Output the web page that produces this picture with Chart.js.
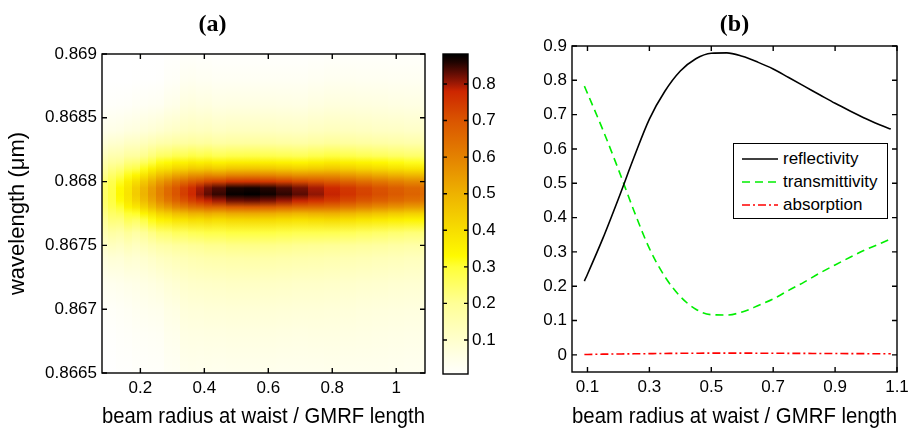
<!DOCTYPE html>
<html>
<head>
<meta charset="utf-8">
<script src="https://cdn.jsdelivr.net/npm/chart.js@4.4.1/dist/chart.umd.min.js"></script>
<style>
  html, body { margin:0; padding:0; background:#fff; }
  #wrap { position:relative; width:915px; height:430px; overflow:hidden; font-family:"Liberation Sans", Arial, sans-serif; }
  #wrap canvas { position:absolute; top:0; }
  #cA { left:0; }
  #cCB { left:430px; }
  #cB { left:480px; }
  .legend { position:absolute; left:733px; top:143px; width:155px; height:76px; box-sizing:border-box;
            border:1px solid #000; background:#fff; padding-top:3px; font-size:17px; color:#000; }
  .legend .item { display:flex; align-items:center; height:23px; }
  .legend svg { margin-left:8px; margin-right:5px; }
</style>
</head>
<body>
<div id="wrap">
  <canvas id="cA" width="508" height="430"></canvas>
  <canvas id="cCB" width="80" height="430"></canvas>
  <canvas id="cB" width="435" height="430"></canvas>
  <div class="legend" id="legB"></div>
</div>
<script>
// ---- panel (b): curves vs beam radius / GMRF length
const beamRatio      = [0.09, 0.10, 0.15, 0.20, 0.25, 0.30, 0.35, 0.40, 0.45, 0.50, 0.55, 0.60, 0.65, 0.70, 0.75, 0.80, 0.85, 0.90, 0.95, 1.00, 1.05, 1.08];
const reflectivity   = [0.215, 0.235, 0.340, 0.455, 0.575, 0.687, 0.768, 0.827, 0.863, 0.879, 0.880, 0.870, 0.853, 0.833, 0.808, 0.783, 0.758, 0.733, 0.710, 0.688, 0.668, 0.658];
const transmittivity = [0.783, 0.762, 0.655, 0.540, 0.420, 0.310, 0.228, 0.170, 0.133, 0.117, 0.116, 0.125, 0.143, 0.163, 0.188, 0.212, 0.238, 0.262, 0.285, 0.307, 0.326, 0.338];
const absorption     = [0.001, 0.0012, 0.002, 0.0025, 0.003, 0.0035, 0.004, 0.0045, 0.0048, 0.005, 0.005, 0.005, 0.0048, 0.0046, 0.0044, 0.0042, 0.004, 0.0038, 0.0036, 0.0034, 0.0032, 0.003];
const seriesNames    = ['reflectivity', 'transmittivity', 'absorption'];
const xTicksB = [0.1, 0.3, 0.5, 0.7, 0.9, 1.1];
const yTicksB = [0, 0.1, 0.2, 0.3, 0.4, 0.5, 0.6, 0.7, 0.8, 0.9];

// ---- panel (a): reflectivity map, one column of values per beam ratio (top -> bottom wavelength)
const heatX  = [0.09, 0.1125, 0.1375, 0.1625, 0.1875, 0.2125, 0.2375, 0.2625, 0.2875, 0.3125, 0.3375, 0.3625, 0.3875, 0.4125, 0.4375,
                0.50, 0.55, 0.60, 0.65, 0.70, 0.75, 0.80, 0.85, 0.90, 0.95, 1.00, 1.05, 1.10];
const heatWl = [0.8690, 0.8688, 0.8686, 0.8684, 0.8683, 0.8682, 0.86815, 0.8681, 0.86805, 0.8680, 0.86795, 0.8679,
                0.86785, 0.8678, 0.86775, 0.8677, 0.8676, 0.8675, 0.8674, 0.8672, 0.8670, 0.8668, 0.8665];
const heatZ = [
  [0, 0, 0.009, 0.045, 0.083, 0.133, 0.163, 0.190, 0.215, 0.238, 0.248, 0.250, 0.248, 0.238, 0.218, 0.200, 0.153, 0.108, 0.073, 0.033, 0.013, 0.005, 0.001],
  [0, 0, 0.010, 0.052, 0.096, 0.154, 0.189, 0.220, 0.249, 0.276, 0.287, 0.290, 0.287, 0.276, 0.252, 0.232, 0.177, 0.125, 0.084, 0.038, 0.015, 0.006, 0.001],
  [0, 0.001, 0.014, 0.056, 0.100, 0.159, 0.198, 0.235, 0.275, 0.312, 0.332, 0.335, 0.327, 0.303, 0.263, 0.231, 0.169, 0.119, 0.082, 0.041, 0.020, 0.010, 0.004],
  [0, 0.001, 0.016, 0.064, 0.116, 0.183, 0.227, 0.270, 0.316, 0.358, 0.381, 0.385, 0.375, 0.348, 0.302, 0.266, 0.194, 0.137, 0.094, 0.047, 0.023, 0.012, 0.004],
  [0, 0.003, 0.022, 0.068, 0.119, 0.185, 0.233, 0.282, 0.343, 0.400, 0.436, 0.440, 0.422, 0.378, 0.308, 0.255, 0.176, 0.123, 0.088, 0.051, 0.031, 0.018, 0.008],
  [0, 0.003, 0.025, 0.077, 0.134, 0.208, 0.262, 0.317, 0.386, 0.450, 0.490, 0.495, 0.475, 0.426, 0.347, 0.287, 0.198, 0.139, 0.099, 0.057, 0.035, 0.020, 0.009],
  [0, 0.003, 0.028, 0.085, 0.149, 0.231, 0.292, 0.352, 0.429, 0.500, 0.545, 0.550, 0.528, 0.473, 0.385, 0.319, 0.220, 0.154, 0.110, 0.063, 0.039, 0.022, 0.010],
  [0, 0.004, 0.030, 0.094, 0.163, 0.254, 0.321, 0.387, 0.472, 0.551, 0.599, 0.605, 0.581, 0.520, 0.424, 0.351, 0.242, 0.169, 0.121, 0.070, 0.042, 0.024, 0.011],
  [0.004, 0.016, 0.046, 0.105, 0.169, 0.259, 0.328, 0.398, 0.495, 0.586, 0.648, 0.655, 0.626, 0.550, 0.440, 0.360, 0.246, 0.175, 0.129, 0.082, 0.056, 0.039, 0.022],
  [0.004, 0.017, 0.049, 0.112, 0.180, 0.277, 0.350, 0.425, 0.529, 0.627, 0.693, 0.700, 0.669, 0.588, 0.471, 0.385, 0.263, 0.187, 0.138, 0.088, 0.060, 0.041, 0.024],
  [0.009, 0.031, 0.067, 0.122, 0.181, 0.274, 0.348, 0.426, 0.540, 0.651, 0.733, 0.740, 0.703, 0.607, 0.477, 0.385, 0.259, 0.189, 0.144, 0.100, 0.074, 0.058, 0.037],
  [0.009, 0.033, 0.070, 0.128, 0.190, 0.287, 0.364, 0.446, 0.566, 0.682, 0.767, 0.775, 0.736, 0.636, 0.500, 0.403, 0.271, 0.198, 0.151, 0.105, 0.078, 0.060, 0.039],
  [0.007, 0.028, 0.064, 0.123, 0.183, 0.278, 0.354, 0.441, 0.568, 0.700, 0.795, 0.805, 0.761, 0.644, 0.497, 0.398, 0.274, 0.201, 0.155, 0.107, 0.078, 0.060, 0.038],
  [0.007, 0.029, 0.066, 0.127, 0.189, 0.286, 0.365, 0.454, 0.585, 0.722, 0.819, 0.830, 0.784, 0.664, 0.513, 0.411, 0.282, 0.208, 0.160, 0.110, 0.081, 0.062, 0.039],
  [0.005, 0.024, 0.060, 0.119, 0.179, 0.272, 0.349, 0.442, 0.578, 0.731, 0.837, 0.850, 0.799, 0.663, 0.502, 0.400, 0.281, 0.208, 0.162, 0.111, 0.081, 0.061, 0.038],
  [0.005, 0.025, 0.061, 0.123, 0.184, 0.280, 0.359, 0.456, 0.596, 0.753, 0.863, 0.876, 0.823, 0.683, 0.517, 0.412, 0.289, 0.215, 0.166, 0.114, 0.083, 0.063, 0.039],
  [0.005, 0.025, 0.062, 0.123, 0.185, 0.282, 0.361, 0.458, 0.598, 0.757, 0.867, 0.880, 0.827, 0.686, 0.519, 0.414, 0.290, 0.216, 0.167, 0.114, 0.084, 0.063, 0.040],
  [0.005, 0.024, 0.061, 0.122, 0.183, 0.278, 0.357, 0.452, 0.592, 0.748, 0.857, 0.870, 0.818, 0.679, 0.513, 0.409, 0.287, 0.213, 0.165, 0.113, 0.083, 0.063, 0.039],
  [0.005, 0.024, 0.060, 0.119, 0.179, 0.273, 0.350, 0.444, 0.580, 0.734, 0.840, 0.853, 0.802, 0.665, 0.503, 0.401, 0.281, 0.209, 0.162, 0.111, 0.081, 0.061, 0.038],
  [0.005, 0.023, 0.058, 0.117, 0.175, 0.267, 0.342, 0.433, 0.566, 0.716, 0.820, 0.833, 0.783, 0.650, 0.491, 0.392, 0.275, 0.204, 0.158, 0.108, 0.079, 0.060, 0.037],
  [0.007, 0.028, 0.065, 0.123, 0.184, 0.279, 0.356, 0.442, 0.570, 0.703, 0.797, 0.808, 0.764, 0.646, 0.499, 0.400, 0.275, 0.202, 0.156, 0.107, 0.079, 0.061, 0.038],
  [0.009, 0.033, 0.070, 0.129, 0.192, 0.290, 0.368, 0.450, 0.572, 0.689, 0.775, 0.783, 0.744, 0.642, 0.505, 0.407, 0.274, 0.200, 0.153, 0.106, 0.078, 0.061, 0.039],
  [0.009, 0.032, 0.068, 0.125, 0.186, 0.280, 0.356, 0.436, 0.553, 0.667, 0.750, 0.758, 0.720, 0.622, 0.489, 0.394, 0.265, 0.193, 0.148, 0.102, 0.076, 0.059, 0.038],
  [0.009, 0.031, 0.066, 0.121, 0.180, 0.271, 0.345, 0.421, 0.535, 0.645, 0.726, 0.733, 0.696, 0.601, 0.473, 0.381, 0.257, 0.187, 0.143, 0.099, 0.073, 0.057, 0.037],
  [0.009, 0.030, 0.064, 0.117, 0.174, 0.263, 0.334, 0.408, 0.518, 0.625, 0.703, 0.710, 0.675, 0.582, 0.458, 0.369, 0.249, 0.181, 0.138, 0.096, 0.071, 0.055, 0.036],
  [0.008, 0.029, 0.062, 0.114, 0.169, 0.255, 0.323, 0.396, 0.502, 0.605, 0.681, 0.688, 0.654, 0.564, 0.444, 0.358, 0.241, 0.175, 0.134, 0.093, 0.069, 0.054, 0.034],
  [0.008, 0.028, 0.060, 0.110, 0.164, 0.247, 0.314, 0.384, 0.488, 0.588, 0.661, 0.668, 0.635, 0.548, 0.431, 0.347, 0.234, 0.170, 0.130, 0.090, 0.067, 0.052, 0.033],
  [0.008, 0.027, 0.059, 0.108, 0.160, 0.241, 0.306, 0.375, 0.476, 0.574, 0.645, 0.652, 0.619, 0.535, 0.421, 0.339, 0.228, 0.166, 0.127, 0.088, 0.065, 0.051, 0.033]
];
const xTicksA = [0.2, 0.4, 0.6, 0.8, 1];
const yTicksA = [0.8665, 0.867, 0.8675, 0.868, 0.8685, 0.869];
const cbTicks = [0.1, 0.2, 0.3, 0.4, 0.5, 0.6, 0.7, 0.8];
const cbMin = 0.007, cbMax = 0.882;

// reversed "hot"-like colormap
const cmapStops = [
  [0.00, [255,255,255]], [0.05, [255,255,232]], [0.10, [255,255,205]], [0.20, [255,255,150]],
  [0.30, [255,255,55]],  [0.33, [255,250,0]],   [0.40, [247,222,0]],   [0.50, [238,178,0]],
  [0.60, [228,130,0]],   [0.70, [218,85,0]],    [0.78, [205,38,0]],    [0.80, [160,25,4]],
  [0.83, [95,12,3]],     [0.86, [30,3,0]],      [0.88, [0,0,0]]
];
function cmap(v){
  if (v <= cmapStops[0][0]) return rgb(cmapStops[0][1]);
  for (let i = 1; i < cmapStops.length; i++){
    const [v1, c1] = cmapStops[i];
    if (v <= v1){
      const [v0, c0] = cmapStops[i-1];
      const t = (v - v0) / (v1 - v0);
      return rgb(c0.map((c, k) => c + (c1[k] - c) * t));
    }
  }
  return rgb(cmapStops[cmapStops.length-1][1]);
}
function rgb(c){ return `rgb(${c.map(Math.round).join(',')})`; }
const fmt = v => String(+(+v).toFixed(4));

Chart.defaults.font.family = '"Liberation Sans", Arial, sans-serif';
Chart.defaults.color = '#000';
Chart.defaults.animation = false;
const tickFont = {size:17};

// box around plot area with inward MATLAB ticks
const framePlugin = {
  id:'frame',
  afterDraw(chart, args, opts){
    const {ctx, chartArea:a} = chart;
    ctx.save();
    ctx.strokeStyle = '#000'; ctx.lineWidth = 1.4;
    ctx.strokeRect(a.left, a.top, a.right - a.left, a.bottom - a.top);
    const len = opts.len || 5;
    ctx.beginPath();
    Object.values(chart.scales).forEach(s => {
      if (!s.options.display) return;
      s.ticks.forEach(t => {
        const p = s.getPixelForValue(t.value);
        if (s.isHorizontal()){
          ctx.moveTo(p, a.bottom); ctx.lineTo(p, a.bottom - len);
          ctx.moveTo(p, a.top); ctx.lineTo(p, a.top + len);
        } else {
          ctx.moveTo(a.left, p); ctx.lineTo(a.left + len, p);
          ctx.moveTo(a.right, p); ctx.lineTo(a.right - len, p);
        }
      });
    });
    ctx.stroke();
    ctx.restore();
  }
};

const heatmapPlugin = {
  id:'heatmap',
  beforeDatasetsDraw(chart){
    const {ctx, chartArea:a, scales:{x, y}} = chart;
    ctx.save();
    ctx.beginPath(); ctx.rect(a.left, a.top, a.right - a.left, a.bottom - a.top); ctx.clip();
    const yTop = y.getPixelForValue(heatWl[0]);
    const yBot = y.getPixelForValue(heatWl[heatWl.length-1]);
    heatX.forEach((xc, c) => {
      const prev = c > 0 ? heatX[c-1] : xc - (heatX[1] - heatX[0]);
      const next = c < heatX.length-1 ? heatX[c+1] : xc + (xc - heatX[c-1]);
      const x0 = Math.floor(x.getPixelForValue((prev + xc) / 2));
      const x1 = Math.ceil(x.getPixelForValue((xc + next) / 2));
      const g = ctx.createLinearGradient(0, yTop, 0, yBot);
      heatWl.forEach((wl, r) => g.addColorStop((y.getPixelForValue(wl) - yTop) / (yBot - yTop), cmap(heatZ[c][r])));
      ctx.fillStyle = g;
      ctx.fillRect(x0, yTop, x1 - x0, yBot - yTop);
    });
    ctx.restore();
  }
};

const colorbarPlugin = {
  id:'colorbar',
  beforeDatasetsDraw(chart){
    const {ctx, chartArea:a, scales:{y}} = chart;
    const y0 = y.getPixelForValue(cbMin), y1 = y.getPixelForValue(cbMax);
    const g = ctx.createLinearGradient(0, y0, 0, y1);
    g.addColorStop(0, cmap(cbMin));
    cmapStops.forEach(([v]) => { if (v > cbMin && v < cbMax) g.addColorStop((v - cbMin) / (cbMax - cbMin), cmap(v)); });
    g.addColorStop(1, cmap(cbMax));
    ctx.save();
    ctx.fillStyle = g;
    ctx.fillRect(a.left, y1, a.right - a.left, y0 - y1);
    ctx.restore();
  }
};

// ---- (a) map
new Chart(document.getElementById('cA'), {
  type:'scatter',
  data:{ datasets:[] },
  plugins:[heatmapPlugin, framePlugin],
  options:{
    responsive:false,
    layout:{ padding:{left:0, right:83, top:0, bottom:0} },
    plugins:{
      legend:{display:false}, tooltip:{enabled:false},
      title:{display:true, text:'(a)', font:{family:'"Liberation Serif", "Times New Roman", serif', size:24, weight:'bold'}, padding:{top:10, bottom:15.2}}
    },
    scales:{
      x:{ type:'linear', min:0.08, max:1.09,
          afterBuildTicks: s => { s.ticks = xTicksA.map(v => ({value:v})); },
          afterFit: s => { s.height = 57; },
          ticks:{ callback: fmt, font:tickFont, padding:5, maxRotation:0, autoSkip:false },
          grid:{ display:false, drawTicks:false }, border:{ display:false },
          title:{ display:true, text:'beam radius at waist / GMRF length', font:{size:22}, padding:{top:0, bottom:0} } },
      y:{ type:'linear', min:0.8665, max:0.869,
          afterBuildTicks: s => { s.ticks = yTicksA.map(v => ({value:v})); },
          afterFit: s => { s.width = 102; },
          ticks:{ callback: fmt, font:tickFont, padding:5, autoSkip:false },
          grid:{ display:false, drawTicks:false }, border:{ display:false },
          title:{ display:true, text:'wavelength (μm)', font:{size:22}, padding:{top:5, bottom:0} } }
    }
  }
});

// ---- colorbar
new Chart(document.getElementById('cCB'), {
  type:'scatter',
  data:{ datasets:[] },
  plugins:[colorbarPlugin, framePlugin],
  options:{
    responsive:false,
    layout:{ padding:{left:13, right:0, top:54, bottom:56} },
    plugins:{ legend:{display:false}, tooltip:{enabled:false}, frame:{len:4} },
    scales:{
      x:{ display:false, min:0, max:1 },
      y:{ type:'linear', position:'right', min:cbMin, max:cbMax,
          afterBuildTicks: s => { s.ticks = cbTicks.map(v => ({value:v})); },
          afterFit: s => { s.width = 42; },
          ticks:{ callback: fmt, font:tickFont, padding:4, autoSkip:false },
          grid:{ display:false, drawTicks:false }, border:{ display:false } }
    }
  }
});

// ---- (b) curves
const seriesData = [reflectivity, transmittivity, absorption];
const seriesColor = ['#000000', '#00ee00', '#ff0000'];
const seriesDash = [[], [8, 5], [8, 3, 2, 3]];
const chartB = new Chart(document.getElementById('cB'), {
  type:'line',
  data:{ datasets: seriesNames.map((name, i) => ({
    label:name,
    data: beamRatio.map((x, k) => ({x, y: seriesData[i][k]})),
    borderColor: seriesColor[i], backgroundColor: seriesColor[i],
    borderDash: seriesDash[i], borderWidth: 1.6,
    pointRadius:0, cubicInterpolationMode:'monotone', fill:false
  })) },
  plugins:[framePlugin],
  options:{
    responsive:false,
    layout:{ padding:{left:0, right:18, top:0, bottom:0} },
    plugins:{
      legend:{display:false}, tooltip:{enabled:false},
      title:{display:true, fullSize:false, text:'(b)', font:{family:'"Liberation Serif", "Times New Roman", serif', size:24, weight:'bold'}, padding:{top:10, bottom:7.2}}
    },
    scales:{
      x:{ type:'linear', min:0.05, max:1.1,
          afterBuildTicks: s => { s.ticks = xTicksB.map(v => ({value:v})); },
          afterFit: s => { s.height = 58; },
          ticks:{ callback: fmt, font:tickFont, padding:5, maxRotation:0, autoSkip:false },
          grid:{ display:false, drawTicks:false }, border:{ display:false },
          title:{ display:true, text:'beam radius at waist / GMRF length', font:{size:22}, padding:{top:0, bottom:0} } },
      y:{ type:'linear', min:-0.05, max:0.9,
          afterBuildTicks: s => { s.ticks = yTicksB.map(v => ({value:v})); },
          afterFit: s => { s.width = 92; },
          ticks:{ callback: fmt, font:tickFont, padding:5, autoSkip:false },
          grid:{ display:false, drawTicks:false }, border:{ display:false } }
    }
  }
});

document.getElementById('legB').innerHTML = chartB.data.datasets.map(ds =>
  `<div class="item"><svg width="36" height="10"><line x1="0" y1="5" x2="36" y2="5" stroke="${ds.borderColor}" stroke-width="1.6" stroke-dasharray="${ds.borderDash.join(' ')}"/></svg><span>${ds.label}</span></div>`
).join('');
</script>
</body>
</html>
